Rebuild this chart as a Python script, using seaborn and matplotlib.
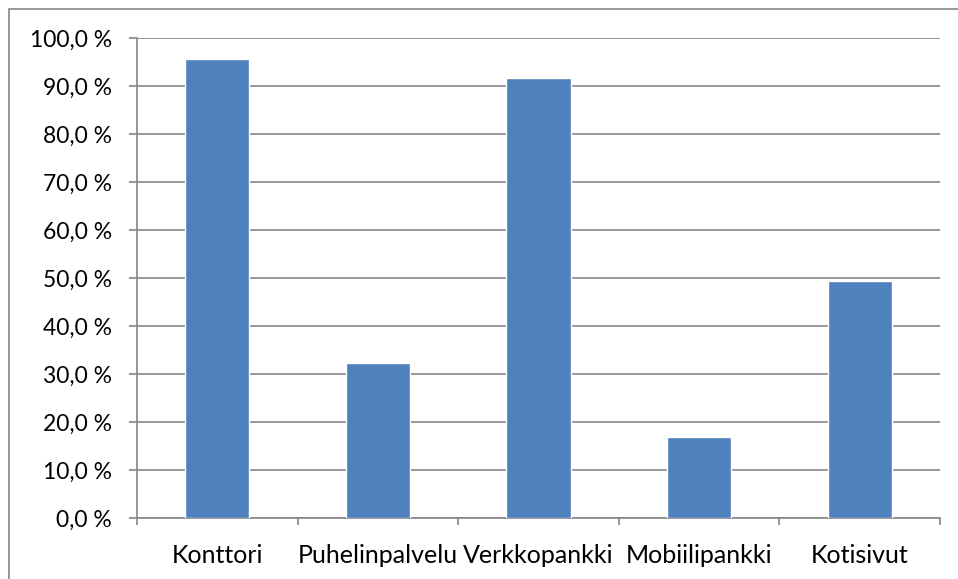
import matplotlib
matplotlib.use("Agg")
import matplotlib.pyplot as plt
import seaborn as sns
import pandas as pd
from matplotlib.patches import Rectangle
from matplotlib.ticker import FuncFormatter, FixedLocator

categories = ["Konttori", "Puhelinpalvelu", "Verkkopankki", "Mobiilipankki", "Kotisivut"]
values = [95.6, 32.3, 91.7, 16.9, 49.4]
yticks = [0, 10, 20, 30, 40, 50, 60, 70, 80, 90, 100]

sns.set_theme(style="white")
plt.rcParams['font.family'] = ['Lato', 'DejaVu Sans']

df = pd.DataFrame({"cat": categories, "val": values})

fig = plt.figure(figsize=(9.58, 5.79), dpi=100)
# outer chart frame
fig.patches.append(Rectangle((9/958, -0.1), 1.2, (579-9)/579 + 0.1, transform=fig.transFigure,
                             fill=False, edgecolor="#868686", linewidth=1.2))
ax = fig.add_axes([137/958, 61/579, (940-137)/958, (518-38)/579])

sns.barplot(data=df, x="cat", y="val", color="#4F81BD", saturation=1, width=0.4, ax=ax, zorder=3)

ax.set_ylim(0, 100)
ax.set_xlim(-0.5, 4.5)
ax.yaxis.set_major_locator(FixedLocator(yticks))
ax.yaxis.set_major_formatter(FuncFormatter(lambda v, p: f"{v:.1f} %".replace(".", ",")))
ax.grid(axis="y", color="#868686", linewidth=1.2, zorder=0)
ax.set_axisbelow(True)
for s in ["top", "right"]:
    ax.spines[s].set_visible(False)
for s in ["left", "bottom"]:
    ax.spines[s].set_color("#868686")
    ax.spines[s].set_linewidth(1.2)

ax.set_xlabel("")
ax.set_ylabel("")
ax.tick_params(axis="y", which="major", left=True, length=6, width=1.2, color="#868686",
               labelsize=16.5, pad=12, labelcolor="black")
ax.set_xticks([i - 0.5 for i in range(6)], minor=True)
ax.tick_params(axis="x", which="minor", bottom=True, length=5, width=1.2, color="#868686")
ax.tick_params(axis="x", which="major", bottom=False, length=0, labelsize=18, pad=19,
               labelcolor="black")

fig.savefig("out.png", dpi=100)
